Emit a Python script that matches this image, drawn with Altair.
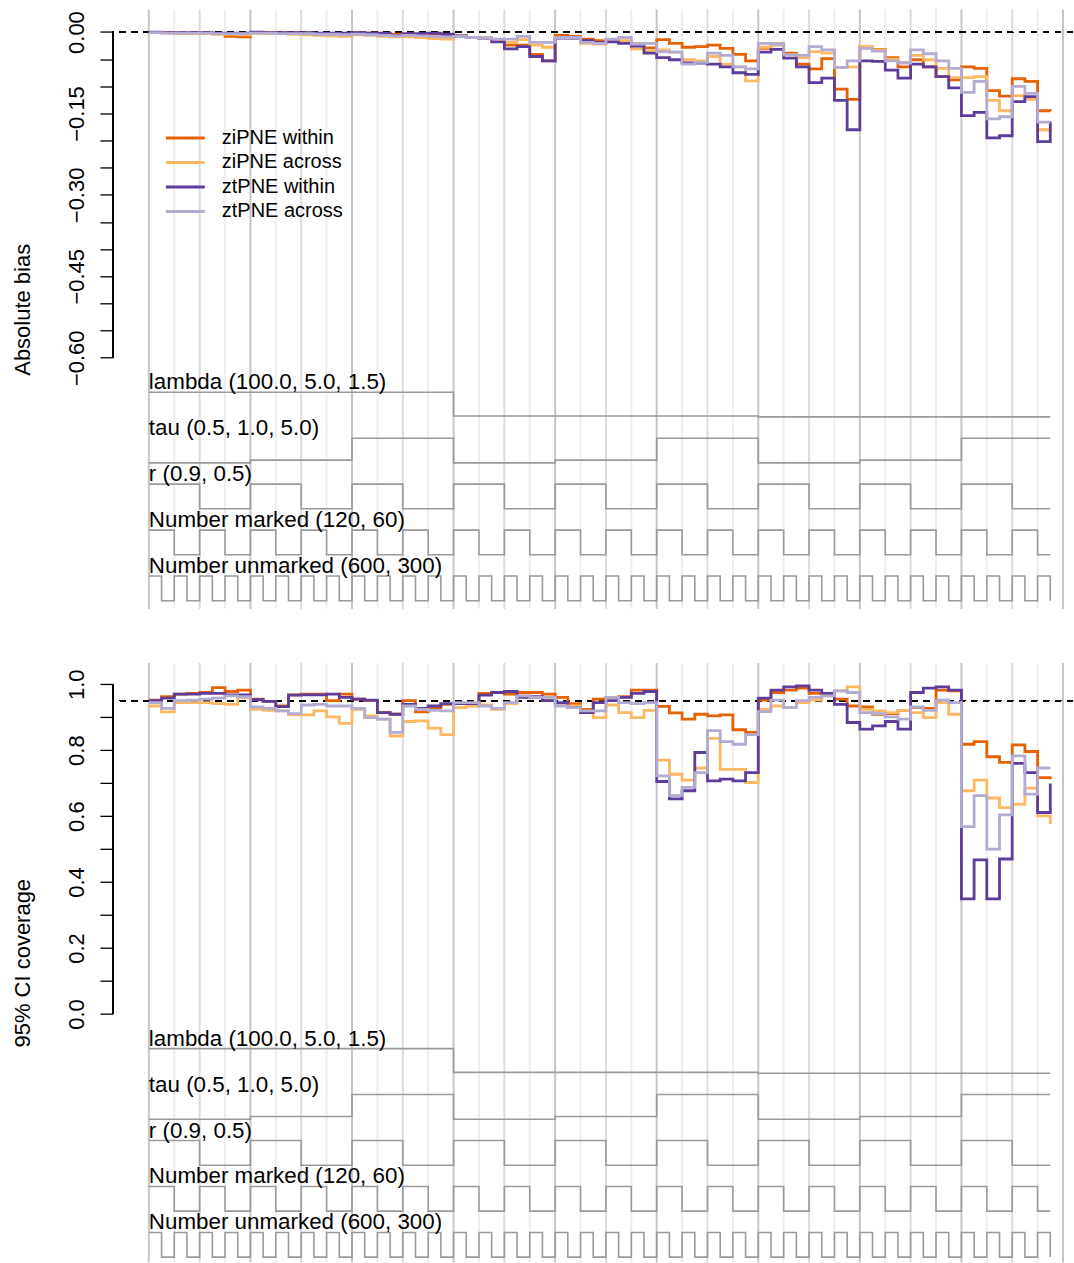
import itertools

import altair as alt
import pandas as pd

# ---------------------------------------------------------------------------
# Simulation design: nested factors, outermost loop first
# ---------------------------------------------------------------------------
lambda_levels = [100.0, 5.0, 1.5]
tau_levels = [0.5, 1.0, 5.0]
r_levels = [0.9, 0.5]
marked_levels = [120, 60]
unmarked_levels = [600, 300]

methods = ["ziPNE within", "ziPNE across", "ztPNE within", "ztPNE across"]
method_colors = ["#e66101", "#fdb863", "#5e3c99", "#b2abd2"]

# ---------------------------------------------------------------------------
# Absolute bias per scenario (72 scenarios)
# ---------------------------------------------------------------------------
bias_zi_within = [
    -0.001, -0.001, -0.002, -0.002, -0.002, -0.003, -0.008, -0.009,
    -0.001, -0.001, -0.002, -0.002, -0.002, -0.003, -0.003, -0.004,
    -0.001, -0.002, -0.003, -0.004, -0.004, -0.005, -0.006, -0.007,
    -0.007, -0.010, -0.011, -0.014, -0.024, -0.024, -0.041, -0.053,
    -0.006, -0.008, -0.013, -0.016, -0.014, -0.019, -0.022, -0.029,
    -0.014, -0.021, -0.028, -0.027, -0.024, -0.030, -0.041, -0.053,
    -0.030, -0.022, -0.039, -0.059, -0.068, -0.049, -0.105, -0.124,
    -0.028, -0.032, -0.047, -0.064, -0.051, -0.064, -0.082, -0.088,
    -0.064, -0.067, -0.108, -0.118, -0.086, -0.091, -0.145, -0.146,
]
bias_zi_across = [
    -0.001, -0.002, -0.002, -0.003, -0.003, -0.004, -0.004, -0.005,
    -0.002, -0.003, -0.003, -0.004, -0.005, -0.006, -0.007, -0.008,
    -0.005, -0.006, -0.008, -0.009, -0.009, -0.010, -0.012, -0.013,
    -0.008, -0.010, -0.011, -0.014, -0.019, -0.014, -0.024, -0.028,
    -0.010, -0.011, -0.021, -0.022, -0.014, -0.016, -0.031, -0.035,
    -0.033, -0.037, -0.051, -0.053, -0.045, -0.059, -0.064, -0.090,
    -0.028, -0.024, -0.042, -0.047, -0.036, -0.039, -0.065, -0.064,
    -0.027, -0.033, -0.050, -0.056, -0.043, -0.051, -0.067, -0.084,
    -0.084, -0.082, -0.126, -0.145, -0.117, -0.124, -0.180, -0.183,
]
bias_zt_within = [
    0.000, -0.001, -0.001, -0.001, -0.001, -0.002, -0.002, -0.002,
    0.000, -0.001, -0.001, -0.001, -0.001, -0.002, -0.002, -0.002,
    -0.001, -0.002, -0.002, -0.006, -0.003, -0.003, -0.002, -0.004,
    -0.007, -0.010, -0.011, -0.018, -0.031, -0.027, -0.045, -0.053,
    -0.011, -0.011, -0.016, -0.019, -0.018, -0.021, -0.026, -0.039,
    -0.047, -0.051, -0.057, -0.057, -0.059, -0.064, -0.075, -0.078,
    -0.037, -0.032, -0.048, -0.064, -0.093, -0.085, -0.126, -0.180,
    -0.053, -0.054, -0.070, -0.085, -0.059, -0.064, -0.082, -0.103,
    -0.154, -0.148, -0.195, -0.191, -0.128, -0.119, -0.202, -0.165,
]
bias_zt_across = [
    -0.001, -0.002, -0.002, -0.002, -0.002, -0.003, -0.003, -0.003,
    -0.002, -0.002, -0.003, -0.003, -0.003, -0.004, -0.004, -0.005,
    -0.004, -0.005, -0.006, -0.007, -0.006, -0.007, -0.008, -0.009,
    -0.008, -0.010, -0.011, -0.013, -0.013, -0.008, -0.019, -0.019,
    -0.010, -0.010, -0.019, -0.021, -0.013, -0.010, -0.022, -0.021,
    -0.036, -0.037, -0.059, -0.056, -0.039, -0.043, -0.064, -0.068,
    -0.021, -0.022, -0.042, -0.043, -0.027, -0.033, -0.065, -0.053,
    -0.030, -0.035, -0.053, -0.057, -0.033, -0.040, -0.053, -0.067,
    -0.111, -0.091, -0.160, -0.156, -0.100, -0.113, -0.166, -0.166,
]

# ---------------------------------------------------------------------------
# 95% CI coverage per scenario
# ---------------------------------------------------------------------------
cov_zi_within = [
    0.952, 0.962, 0.970, 0.972, 0.975, 0.990, 0.978, 0.982,
    0.955, 0.948, 0.934, 0.968, 0.970, 0.970, 0.950, 0.970,
    0.955, 0.950, 0.914, 0.909, 0.950, 0.916, 0.929, 0.939,
    0.941, 0.939, 0.972, 0.975, 0.970, 0.975, 0.975, 0.970,
    0.960, 0.941, 0.924, 0.955, 0.960, 0.962, 0.982, 0.982,
    0.933, 0.913, 0.894, 0.909, 0.904, 0.907, 0.862, 0.854,
    0.952, 0.975, 0.982, 0.988, 0.972, 0.970, 0.955, 0.934,
    0.931, 0.909, 0.911, 0.921, 0.929, 0.927, 0.982, 0.980,
    0.818, 0.826, 0.780, 0.763, 0.816, 0.796, 0.717, 0.712,
]
cov_zi_across = [
    0.934, 0.916, 0.944, 0.944, 0.944, 0.941, 0.939, 0.960,
    0.924, 0.921, 0.919, 0.907, 0.907, 0.919, 0.901, 0.881,
    0.924, 0.904, 0.894, 0.843, 0.887, 0.889, 0.867, 0.847,
    0.929, 0.934, 0.937, 0.924, 0.941, 0.965, 0.960, 0.952,
    0.937, 0.934, 0.914, 0.899, 0.937, 0.914, 0.899, 0.921,
    0.770, 0.727, 0.709, 0.746, 0.836, 0.742, 0.742, 0.702,
    0.924, 0.934, 0.929, 0.944, 0.952, 0.965, 0.980, 0.992,
    0.924, 0.919, 0.914, 0.921, 0.914, 0.899, 0.944, 0.909,
    0.677, 0.709, 0.655, 0.626, 0.636, 0.685, 0.601, 0.576,
]
cov_zt_within = [
    0.950, 0.958, 0.970, 0.970, 0.972, 0.972, 0.968, 0.968,
    0.953, 0.948, 0.932, 0.967, 0.968, 0.968, 0.970, 0.960,
    0.955, 0.952, 0.914, 0.909, 0.939, 0.927, 0.934, 0.941,
    0.941, 0.941, 0.967, 0.975, 0.978, 0.960, 0.962, 0.950,
    0.944, 0.929, 0.914, 0.944, 0.950, 0.960, 0.972, 0.978,
    0.705, 0.652, 0.677, 0.793, 0.707, 0.712, 0.707, 0.732,
    0.958, 0.982, 0.992, 0.995, 0.982, 0.972, 0.939, 0.884,
    0.864, 0.874, 0.887, 0.864, 0.975, 0.988, 0.992, 0.982,
    0.349, 0.467, 0.349, 0.470, 0.760, 0.732, 0.611, 0.699,
]
cov_zt_across = [
    0.944, 0.927, 0.950, 0.952, 0.955, 0.958, 0.965, 0.962,
    0.931, 0.927, 0.919, 0.911, 0.937, 0.939, 0.934, 0.934,
    0.927, 0.899, 0.894, 0.854, 0.934, 0.924, 0.921, 0.919,
    0.944, 0.944, 0.934, 0.927, 0.944, 0.965, 0.960, 0.960,
    0.934, 0.929, 0.919, 0.919, 0.960, 0.944, 0.941, 0.944,
    0.722, 0.662, 0.687, 0.732, 0.859, 0.826, 0.818, 0.847,
    0.917, 0.952, 0.929, 0.950, 0.960, 0.965, 0.980, 0.975,
    0.914, 0.911, 0.901, 0.894, 0.931, 0.921, 0.952, 0.944,
    0.568, 0.662, 0.500, 0.604, 0.783, 0.667, 0.746, 0.746,
]

# ---------------------------------------------------------------------------
# Full factorial design in loop order
# ---------------------------------------------------------------------------
factor_levels = [lambda_levels, tau_levels, r_levels, marked_levels, unmarked_levels]
design = list(itertools.product(*factor_levels))
n_scen = len(design)
scenario = list(range(1, n_scen + 1))


def level_text(levels, decimals=None):
    if decimals is None:
        return ", ".join(str(v) for v in levels)
    return ", ".join(f"{v:.{decimals}f}" for v in levels)


factor_labels = [
    f"lambda ({level_text(lambda_levels, 1)})",
    f"tau ({level_text(tau_levels, 1)})",
    f"r ({level_text(r_levels, 1)})",
    f"Number marked ({level_text(marked_levels)})",
    f"Number unmarked ({level_text(unmarked_levels)})",
]

FONT = "Liberation Sans"
W, H = 961, 600
X_DOMAIN = [-1.833, 73.789]


def panel(series, y_domain, ref, ticks, label_step, fmt, title,
          loop_top, loop_step, loop_height, show_legend):
    xs = alt.Scale(domain=X_DOMAIN, nice=False, zero=False)
    ys = alt.Scale(domain=y_domain, nice=False, zero=False)

    label_expr = (
        f"round(datum.value * 100) % {label_step} == 0 ? datum.label : ''"
    )
    # one shared y axis definition, used by every layer that has y
    y_axis = alt.Axis(
        values=ticks, format=fmt, labelExpr=label_expr, domain=False, grid=False,
        tickSize=13, tickWidth=1.3, tickColor="black",
        labelFontSize=22, labelFont=FONT, labelColor="black",
        labelAngle=270, labelAlign="center", labelBaseline="alphabetic",
        labelPadding=16, labelOverlap=False, labelFlush=False, labelBound=False,
        title=title, titleFontSize=22, titleFont=FONT, titleFontWeight="normal",
        titleColor="black", titleAngle=270, titleAlign="center",
        titleBaseline="alphabetic", titleX=-83, titleY=H / 2,
    )

    # performance lines
    lines_df = pd.DataFrame(
        [{"scenario": s, "value": v, "method": m}
         for m, vals in zip(methods, series)
         for s, v in zip(scenario, vals)]
    )

    # vertical separators every 2 scenarios, stronger at r and tau changes
    pos = list(range(1, n_scen + 2, 2))
    grid_df = pd.DataFrame({"pos": pos})
    grid_df["level"] = [
        "major" if (p - 1) % 8 == 0 else ("mid" if (p - 1) % 4 == 0 else "minor")
        for p in pos
    ]

    # nested-loop parameter traces beneath the data
    loop_rows = []
    label_rows = []
    for k, (levels, label) in enumerate(zip(factor_levels, factor_labels)):
        hi, lo = max(levels), min(levels)
        top = loop_top - k * loop_step
        label_rows.append({"label": label, "value": top})
        for s, combo in zip(scenario, design):
            v = combo[k]
            loop_rows.append({
                "factor": label,
                "scenario": s,
                "value": top - (hi - v) / (hi - lo) * loop_height,
            })
    loop_df = pd.DataFrame(loop_rows)
    label_df = pd.DataFrame(label_rows)

    grid_colors = {"major": "#c6c6c6", "mid": "#dcdcdc", "minor": "#eeeeee"}
    grid_layers = [
        alt.Chart(grid_df)
        .transform_filter(alt.datum.level == lvl)
        .mark_rule(color=col, strokeWidth=2)
        .encode(x=alt.X("pos:Q", scale=xs, axis=None))
        for lvl, col in grid_colors.items()
    ]

    ref_line = alt.Chart(lines_df).mark_rule(
        color="black", strokeWidth=1.2, strokeDash=[6, 6]
    ).encode(y=alt.YDatum(ref, scale=ys, axis=y_axis))

    axis_line = alt.Chart(lines_df).mark_rule(color="black", strokeWidth=1.3).encode(
        x=alt.XDatum(X_DOMAIN[0], scale=xs, axis=None),
        y=alt.YDatum(min(ticks), scale=ys, axis=y_axis),
        y2=alt.Y2Datum(max(ticks)),
    )

    loop_lines = alt.Chart(loop_df).mark_line(
        interpolate="step-after", color="#9a9a9a", strokeWidth=1.6
    ).encode(
        x=alt.X("scenario:Q", scale=xs, axis=None),
        y=alt.Y("value:Q", scale=ys, axis=y_axis),
        detail="factor:N",
    )

    loop_text = alt.Chart(label_df).mark_text(
        align="left", baseline="alphabetic", dy=-3, fontSize=22.4, font=FONT,
        color="black",
    ).encode(
        x=alt.XDatum(1, scale=xs, axis=None),
        y=alt.Y("value:Q", scale=ys, axis=y_axis),
        text="label:N",
    )

    # legend key: a flat stroke drawn from a wide, thin symbol path
    legend = (
        alt.Legend(
            title=None, orient="none", legendX=61, legendY=117,
            symbolType="M-2,0L2,0", symbolSize=380, symbolStrokeWidth=3,
            labelFontSize=20, labelFont=FONT, labelColor="black",
            labelOffset=25, padding=0, rowPadding=2.5, labelLimit=0,
        )
        if show_legend else None
    )

    method_lines = alt.Chart(lines_df).mark_line(
        interpolate="step-after", strokeWidth=2.8
    ).encode(
        x=alt.X("scenario:Q", scale=xs, axis=None),
        y=alt.Y("value:Q", scale=ys, axis=y_axis),
        color=alt.Color(
            "method:N",
            scale=alt.Scale(domain=methods, range=method_colors),
            legend=legend,
        ),
    )

    return alt.layer(
        *grid_layers, ref_line, axis_line, loop_lines, loop_text, method_lines
    ).properties(width=W, height=H)


bias_ticks = [round(-0.05 * i, 2) for i in range(12, -1, -1)]
cov_ticks = [round(0.1 * i, 1) for i in range(0, 11)]

bias_panel = panel(
    [bias_zi_within, bias_zi_across, bias_zt_within, bias_zt_across],
    y_domain=[-1.06295, 0.04141], ref=0.0, ticks=bias_ticks, label_step=15,
    fmt=".2f", title="Absolute bias",
    loop_top=-0.66354, loop_step=0.08467, loop_height=0.04546, show_legend=True,
)

cov_panel = panel(
    [cov_zi_within, cov_zi_across, cov_zt_within, cov_zt_across],
    y_domain=[-0.7536, 1.0645], ref=0.95, ticks=cov_ticks, label_step=20,
    fmt=".1f", title="95% CI coverage",
    loop_top=-0.10515, loop_step=0.13939, loop_height=0.07485, show_legend=False,
)

chart = (
    alt.vconcat(bias_panel, cov_panel, spacing=54, bounds="flush")
    .resolve_scale(x="independent", y="independent", color="independent")
    .resolve_legend(color="independent")
    .properties(
        padding={"left": 12, "top": 8, "right": 0, "bottom": 0},
        background="white",
    )
    .configure_view(stroke=None)
)

chart.save("out.html", embed_options={"renderer": "svg", "actions": False})
